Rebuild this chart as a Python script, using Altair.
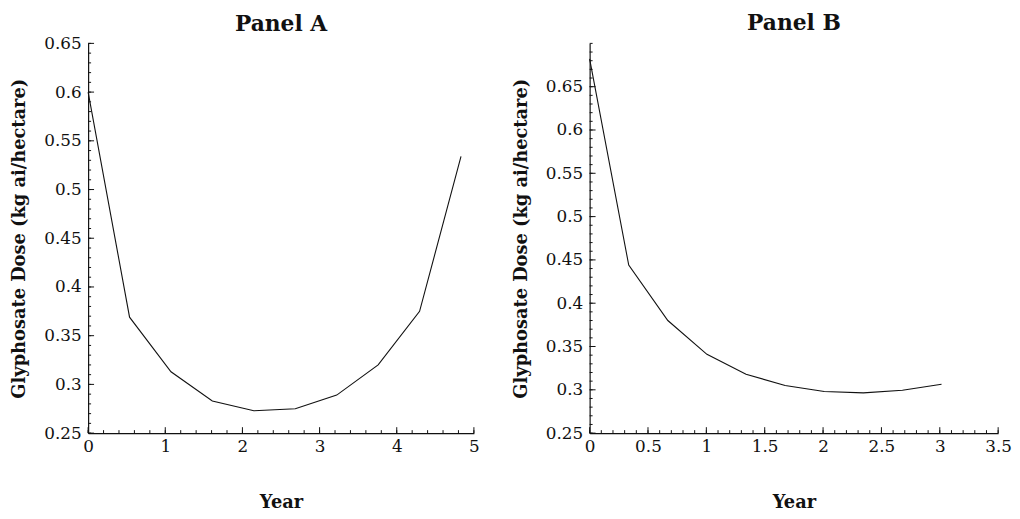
import altair as alt
import pandas as pd

# ---- data ----
years_a = [0.0, 0.537, 1.074, 1.61, 2.148, 2.685, 3.222, 3.759, 4.296, 4.833]
dose_a = [0.600, 0.369, 0.313, 0.283, 0.273, 0.275, 0.289, 0.320, 0.375, 0.534]

years_b = [0.0, 0.335, 0.67, 1.005, 1.34, 1.675, 2.01, 2.345, 2.68, 3.015]
dose_b = [0.682, 0.444, 0.380, 0.341, 0.318, 0.305, 0.298, 0.2965, 0.2995, 0.3065]

# axis ticks (major labelled, minor unlabelled)
xmajor_a = [0, 1, 2, 3, 4, 5]
xminor_a = [round(i * 0.2, 2) for i in range(26)]
ymajor_a = [0.25, 0.3, 0.35, 0.4, 0.45, 0.5, 0.55, 0.6, 0.65]
yminor_a = [round(0.25 + i * 0.01, 2) for i in range(41)]

xmajor_b = [0, 0.5, 1, 1.5, 2, 2.5, 3, 3.5]
xminor_b = [round(i * 0.1, 2) for i in range(36)]
ymajor_b = [0.25, 0.3, 0.35, 0.4, 0.45, 0.5, 0.55, 0.6, 0.65]
yminor_b = [round(0.25 + i * 0.01, 2) for i in range(46)]

FONT = "DejaVu Serif"
INK = "#111111"


def panel(years, dose, title, title_offset, xdom, ydom, xmaj, xmin, ymaj, ymin, w, h):
    df = pd.DataFrame({"year": years, "dose": dose})
    xs = alt.Scale(domain=xdom, nice=False, zero=False)
    ys = alt.Scale(domain=ydom, nice=False, zero=False)
    xaxis = alt.Axis(
        orient="bottom", values=xmaj, format="~g", ticks=False, grid=False,
        domainColor=INK, domainWidth=1.2, labelPadding=6,
        labelFont=FONT, labelFontSize=17, labelColor=INK, labelFlush=False,
        title="Year", titleFont=FONT, titleFontSize=18, titleFontWeight="bold",
        titleColor=INK, titlePadding=39)
    yaxis = alt.Axis(
        orient="left", values=ymaj, format="~g", ticks=False, grid=False,
        domainColor=INK, domainWidth=1.2, labelPadding=7,
        labelFont=FONT, labelFontSize=17, labelColor=INK, labelFlush=False,
        title="Glyphosate Dose (kg ai/hectare)", titleFont=FONT,
        titleFontSize=18, titleFontWeight="bold", titleColor=INK,
        titlePadding=15)

    line = alt.Chart(df).mark_line(color=INK, strokeWidth=1.1).encode(
        x=alt.X("year:Q", scale=xs, axis=xaxis),
        y=alt.Y("dose:Q", scale=ys, axis=yaxis),
    )

    def xticks(vals, size):
        return alt.Chart(pd.DataFrame({"year": vals})).mark_rule(
            color=INK, strokeWidth=1).encode(
            x=alt.X("year:Q", scale=xs, axis=xaxis),
            y=alt.value(h), y2=alt.value(h - size))

    def yticks(vals, size):
        return alt.Chart(pd.DataFrame({"dose": vals})).mark_rule(
            color=INK, strokeWidth=1).encode(
            y=alt.Y("dose:Q", scale=ys, axis=yaxis),
            x=alt.value(0), x2=alt.value(size))

    return alt.layer(
        line,
        xticks(xmin, 3), xticks(xmaj, 6),
        yticks(ymin, 3), yticks(ymaj, 6),
    ).properties(
        width=w, height=h,
        title=alt.TitleParams(title, font=FONT, fontSize=22, fontWeight="bold",
                              color=INK, anchor="middle", offset=title_offset),
    )


pA = panel(years_a, dose_a, "Panel A", -1, [0, 5], [0.25, 0.65],
           xmajor_a, xminor_a, ymajor_a, yminor_a, 390, 394)
pB = panel(years_b, dose_b, "Panel B", 8, [0, 3.5], [0.25, 0.70],
           xmajor_b, xminor_b, ymajor_b, yminor_b, 413, 394)

chart = alt.hconcat(pA, pB, spacing=33).properties(
    padding={"left": 3, "top": 1, "right": 0, "bottom": 0},
    background="white",
).configure_view(strokeWidth=0, stroke="transparent")

chart.save("out.html", embed_options={"renderer": "svg", "actions": False})
